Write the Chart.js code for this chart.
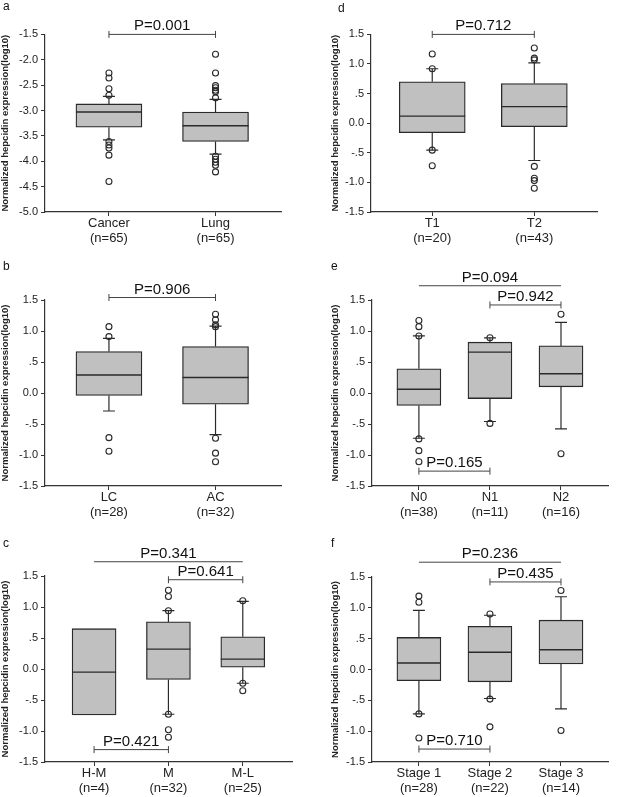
<!DOCTYPE html>
<html>
<head>
<meta charset="utf-8">
<script src="https://cdn.jsdelivr.net/npm/chart.js@4.4.1/dist/chart.umd.min.js"></script>
<style>
body { margin: 0; background: #fff; }
#wrap { position: relative; width: 632px; height: 797px; }
canvas { position: absolute; }
</style>
</head>
<body>
<div id="wrap">
  <canvas id="ca" width="316" height="255" style="left:0;top:0"></canvas>
  <canvas id="cd" width="316" height="255" style="left:316px;top:0"></canvas>
  <canvas id="cb" width="316" height="280" style="left:0;top:255px"></canvas>
  <canvas id="ce" width="316" height="280" style="left:316px;top:255px"></canvas>
  <canvas id="cc" width="316" height="262" style="left:0;top:535px"></canvas>
  <canvas id="cf" width="316" height="262" style="left:316px;top:535px"></canvas>
</div>
<script>
// ===== a : cancer vs lung
var catsA = [['Cancer', '(n=65)'], ['Lung', '(n=65)']];
var q1A = [-3.33, -3.61];
var medA = [-3.03, -3.30];
var q3A = [-2.87, -3.03];
var lowA = [-3.58, -3.86];
var highA = [-2.72, -2.78];
var outA = [[-2.26, -2.36, -2.57, -2.70, -3.61, -3.68, -3.74, -3.88, -4.40],
            [-1.89, -2.26, -2.51, -2.55, -2.60, -2.63, -2.75, -3.90, -3.96, -4.02, -4.08, -4.21]];
var pA = [[1, 2, -1.5, 'P=0.001']];

// ===== d : T1 / T2
var catsD = [['T1', '(n=20)'], ['T2', '(n=43)']];
var q1D = [-0.16, -0.06];
var medD = [0.12, 0.28];
var q3D = [0.70, 0.67];
var lowD = [-0.455, -0.63];
var highD = [0.92, 1.02];
var outD = [[1.17, 0.92, -0.455, -0.72], [1.27, 1.10, 1.07, -0.73, -0.93, -0.97, -1.10]];
var pD = [[1, 2, 1.5, 'P=0.712']];

// ===== b : LC / AC
var catsB = [['LC', '(n=28)'], ['AC', '(n=32)']];
var q1B = [-0.04, -0.18];
var medB = [0.29, 0.25];
var q3B = [0.67, 0.75];
var lowB = [-0.29, -0.67];
var highB = [0.88, 1.08];
var outB = [[1.07, 0.91, -0.72, -0.94], [1.27, 1.18, 1.10, 1.07, -0.73, -0.97, -1.11]];
var pB = [[1, 2, 1.54, 'P=0.906']];

// ===== e : N stage
var catsE = [['N0', '(n=38)'], ['N1', '(n=11)'], ['N2', '(n=16)']];
var q1E = [-0.20, -0.09, 0.10];
var medE = [0.06, 0.66, 0.31];
var q3E = [0.39, 0.82, 0.76];
var lowE = [-0.73, -0.46, -0.58];
var highE = [0.92, 0.89, 1.14];
var outE = [[1.17, 1.07, 0.92, -0.74, -0.93, -1.11], [0.89, -0.49], [1.27, -0.98]];
var pE = [[1, 3, 1.73, 'P=0.094'], [2, 3, 1.42, 'P=0.942'], [1, 2, -1.26, 'P=0.165']];

// ===== c : differentiation
var catsC = [['H-M', '(n=4)'], ['M', '(n=32)'], ['M-L', '(n=25)']];
var q1C = [-0.74, -0.17, 0.03];
var medC = [-0.05, 0.32, 0.16];
var q3C = [0.65, 0.76, 0.52];
var lowC = [null, -0.73, -0.23];
var highC = [null, 0.94, 1.09];
var outC = [[], [1.27, 1.17, 0.94, -0.73, -0.98, -1.10], [1.10, -0.23, -0.35]];
var pC = [[1, 3, 1.73, 'P=0.341'], [2, 3, 1.44, 'P=0.641'], [1, 2, -1.30, 'P=0.421']];

// ===== f : stage
var catsF = [['Stage 1', '(n=28)'], ['Stage 2', '(n=22)'], ['Stage 3', '(n=14)']];
var q1F = [-0.18, -0.20, 0.09];
var medF = [0.105, 0.28, 0.32];
var q3F = [0.52, 0.70, 0.80];
var lowF = [-0.72, -0.47, -0.64];
var highF = [0.96, 0.88, 1.18];
var outF = [[1.19, 1.09, -0.72, -1.11], [0.90, -0.48, -0.93], [1.28, -0.99]];
var pF = [[1, 3, 1.74, 'P=0.236'], [2, 3, 1.42, 'P=0.435'], [1, 2, -1.29, 'P=0.710']];

Chart.defaults.font.family = "'Liberation Sans', Arial, sans-serif";
Chart.defaults.color = '#222';

var INK = '#2a2a2a';

function fmtTick(v) {
    var s = Math.abs(v) < 1e-9 ? '0.0' : v.toFixed(1);
    if (s === '0.5') s = '.5';
    if (s === '-0.5') s = '-.5';
    return s;
}

// area = [left, right, top, bottom] of the plot, in canvas px
function makePanel(p) {
    var canvas = document.getElementById(p.id);
    var W = canvas.width, H = canvas.height;
    var n = p.cats.length;
    var boxW = n === 2 ? 66 : 44;
    var xMin = n === 2 ? 0.40 : 0.34;
    var xMax = n === 2 ? 2.62 : 3.67;

    var box = [], med = [], whisk = [], caps = [], outs = [], br = [];
    p.cats.forEach(function (c, i) {
        var x = i + 1;
        box.push({x: x, y: [p.q1[i], p.q3[i]]});
        med.push({x: x, y: p.med[i]});
        if (p.low[i] != null) {
            whisk.push({x: x, y: p.low[i]}, {x: x, y: p.q1[i]}, {x: x, y: null},
                       {x: x, y: p.q3[i]}, {x: x, y: p.high[i]}, {x: x, y: null});
            caps.push({x: x, y: p.low[i]}, {x: x, y: p.high[i]});
        }
        p.out[i].forEach(function (v) { outs.push({x: x, y: v}); });
    });
    p.pv.forEach(function (b) {
        br.push({x: b[0], y: b[2]}, {x: b[1], y: b[2]}, {x: b[1], y: null});
    });

    var textPlugin = {
        id: 'panelText',
        afterDraw: function (chart) {
            var ctx = chart.ctx, xs = chart.scales.x, ys = chart.scales.y;
            ctx.save();
            ctx.fillStyle = '#111';
            ctx.textBaseline = 'alphabetic';
            ctx.textAlign = 'left';
            ctx.font = "12px 'Liberation Sans', Arial, sans-serif";
            ctx.fillText(p.letter, p.lx, p.ly);
            ctx.textAlign = 'center';
            ctx.font = "15px 'Liberation Sans', Arial, sans-serif";
            p.pv.forEach(function (b) {
                var x = (xs.getPixelForValue(b[0]) + xs.getPixelForValue(b[1])) / 2;
                ctx.fillText(b[3], x, ys.getPixelForValue(b[2]) - 4);
            });
            ctx.restore();
        }
    };

    new Chart(canvas, {
        type: 'bar',
        data: {
            datasets: [
                {type: 'bar', data: box, backgroundColor: '#c0c0c0', borderColor: INK, borderWidth: 1.3,
                 borderSkipped: false, barThickness: boxW, order: 3},
                {type: 'line', data: whisk, borderColor: INK, borderWidth: 1.2, pointRadius: 0,
                 spanGaps: false, order: 4},
                {type: 'line', data: med, showLine: false, pointStyle: 'line', pointRadius: boxW / 2,
                 pointBorderWidth: 1.4, pointBorderColor: INK, order: 1},
                {type: 'line', data: caps, showLine: false, pointStyle: 'line', pointRadius: 6,
                 pointBorderWidth: 1.2, pointBorderColor: INK, order: 1},
                {type: 'line', data: outs, showLine: false, pointStyle: 'circle', pointRadius: 3,
                 pointBorderWidth: 1.1, pointBorderColor: INK, pointBackgroundColor: 'rgba(0,0,0,0)', order: 0},
                {type: 'line', data: br, borderColor: '#444', borderWidth: 1, pointStyle: 'line',
                 pointRotation: 90, pointRadius: 3.5, pointBorderWidth: 1, pointBorderColor: '#444',
                 clip: false, spanGaps: false, order: 0}
            ]
        },
        options: {
            responsive: false,
            animation: false,
            devicePixelRatio: 1,
            events: [],
            layout: {padding: {left: p.padL, right: W - p.area[1], top: p.area[2], bottom: 0}},
            plugins: {legend: {display: false}, tooltip: {enabled: false}},
            scales: {
                x: {
                    type: 'linear', min: xMin, max: xMax, offset: false,
                    afterBuildTicks: function (s) {
                        s.ticks = p.cats.map(function (c, i) { return {value: i + 1}; });
                    },
                    ticks: {
                        autoSkip: false, maxRotation: 0, padding: 0, color: '#222',
                        font: {size: 13, lineHeight: 1.15},
                        callback: function (v) { return p.cats[Math.round(v) - 1]; }
                    },
                    grid: {drawOnChartArea: false, offset: false, tickLength: 4, color: '#333'},
                    border: {display: true, color: '#333', width: 1.2},
                    afterFit: function (s) { s.height = H - p.area[3]; }
                },
                y: {
                    type: 'linear', min: p.yMin, max: p.yMax,
                    ticks: {stepSize: 0.5, callback: fmtTick, color: '#222', font: {size: 11}, padding: 3},
                    grid: {drawOnChartArea: false, tickLength: 4, color: '#333'},
                    border: {display: true, color: '#333', width: 1.2},
                    title: {display: true, text: 'Normalized hepcidin expression(log10)',
                            font: {size: 9.5, weight: 'bold'}, color: '#222', padding: 0},
                    afterFit: function (s) { s.width = p.area[0] - p.padL; }
                }
            }
        },
        plugins: [textPlugin]
    });
}

makePanel({id: 'ca', letter: 'a', lx: 3, ly: 10, padL: 0, area: [45, 305, 27, 212], yMin: -5, yMax: -1.5,
           cats: catsA, q1: q1A, med: medA, q3: q3A, low: lowA, high: highA, out: outA, pv: pA});
makePanel({id: 'cd', letter: 'd', lx: 22, ly: 12, padL: 14, area: [55, 315, 25, 212], yMin: -1.5, yMax: 1.5,
           cats: catsD, q1: q1D, med: medD, q3: q3D, low: lowD, high: highD, out: outD, pv: pD});
makePanel({id: 'cb', letter: 'b', lx: 3, ly: 15, padL: 0, area: [45, 303, 45, 231], yMin: -1.5, yMax: 1.5,
           cats: catsB, q1: q1B, med: medB, q3: q3B, low: lowB, high: highB, out: outB, pv: pB});
makePanel({id: 'ce', letter: 'e', lx: 15, ly: 15, padL: 14, area: [56, 315, 45, 231], yMin: -1.5, yMax: 1.5,
           cats: catsE, q1: q1E, med: medE, q3: q3E, low: lowE, high: highE, out: outE, pv: pE});
makePanel({id: 'cc', letter: 'c', lx: 3, ly: 12, padL: 0, area: [45, 305, 41, 227], yMin: -1.5, yMax: 1.5,
           cats: catsC, q1: q1C, med: medC, q3: q3C, low: lowC, high: highC, out: outC, pv: pC});
makePanel({id: 'cf', letter: 'f', lx: 15, ly: 12, padL: 14, area: [56, 315, 42, 227], yMin: -1.5, yMax: 1.5,
           cats: catsF, q1: q1F, med: medF, q3: q3F, low: lowF, high: highF, out: outF, pv: pF});
</script>
</body>
</html>
